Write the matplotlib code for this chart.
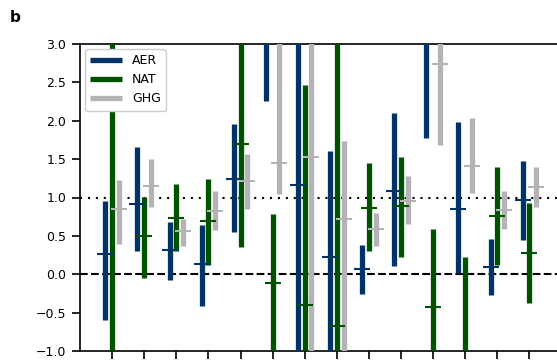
import matplotlib
matplotlib.use("Agg")
import matplotlib.pyplot as plt
import numpy as np

# Scaling factor ranges (low, high) and best estimates for each of 14 cases
groups = np.arange(1, 15)

aer_low  = [-0.59, 0.30, -0.07, -0.41, 0.55, 2.26, -1.60, -1.40, -0.26, 0.11, 1.77, 0.02, -0.27, 0.45]
aer_high = [0.95, 1.66, 0.68, 0.64, 1.96, 3.80, 3.60, 1.60, 0.38, 2.10, 3.60, 1.99, 0.46, 1.48]
aer_best = [0.26, 0.92, 0.32, 0.14, 1.24, 3.20, 1.16, 0.22, 0.07, 1.08, 3.10, 0.85, 0.09, 0.97]

nat_low  = [-1.50, -0.05, 0.30, 0.12, 0.35, -1.60, -1.50, -1.80, 0.30, 0.23, -1.60, -1.50, 0.12, -0.38]
nat_high = [3.50, 1.01, 1.17, 1.24, 3.40, 0.78, 2.47, 3.50, 1.45, 1.53, 0.59, 0.23, 1.40, 0.93]
nat_best = [3.30, 0.50, 0.73, 0.70, 1.70, -0.11, -0.40, -0.68, 0.86, 0.89, -0.43, -1.20, 0.76, 0.28]

ghg_low  = [0.40, 0.87, 0.37, 0.58, 0.85, 1.05, -1.40, -1.30, 0.37, 0.65, 1.69, 1.06, 0.59, 0.88]
ghg_high = [1.23, 1.50, 0.72, 1.08, 1.57, 3.50, 3.50, 1.73, 0.80, 1.28, 3.50, 2.04, 1.09, 1.40]
ghg_best = [0.85, 1.15, 0.56, 0.82, 1.21, 1.45, 1.53, 0.72, 0.59, 0.95, 2.74, 1.41, 0.84, 1.14]

series = [
    ("AER", "#003366", aer_low, aer_high, aer_best, -0.21),
    ("NAT", "#005200", nat_low, nat_high, nat_best, 0.0),
    ("GHG", "#b4b4b4", ghg_low, ghg_high, ghg_best, 0.21),
]

fig = plt.figure(figsize=(5.57, 3.60), dpi=100)
ax = fig.add_axes([80 / 557, 1 - 351 / 360, 481.5 / 557, 307 / 360])

ax.axhline(0.0, color="black", lw=1.5, ls=(0, (3.7, 1.6)), zorder=1)
ax.axhline(1.0, color="black", lw=1.5, ls=(0, (1, 2.8)), zorder=1)

for name, color, lo, hi, best, off in series:
    x = groups + off
    ax.vlines(x, lo, hi, color=color, lw=3.8, label=name, zorder=3)
    ax.plot(x, best, ls="none", marker="_", ms=11.5, mew=1.5, color=color, zorder=4)

ax.set_xlim(0, 15)
ax.set_ylim(-1.0, 3.0)
ax.set_xticks(groups)
ax.set_xticklabels([])
ax.set_yticks(np.arange(-1.0, 3.01, 0.5))
ax.tick_params(axis="both", labelsize=9, length=6, width=1.2, pad=4)
ax.spines["right"].set_visible(False)
for s in ax.spines.values():
    s.set_linewidth(1.2)

leg = ax.legend(loc="upper left", fontsize=9, framealpha=1.0, handlelength=2.55,
                borderaxespad=0.4, labelspacing=0.5)
for line in leg.get_lines():
    line.set_linewidth(3.8)

fig.text(10 / 557, 1 - 17 / 360, "b", fontsize=11, fontweight="bold", va="center", ha="left")

fig.savefig("out.png", dpi=100)
